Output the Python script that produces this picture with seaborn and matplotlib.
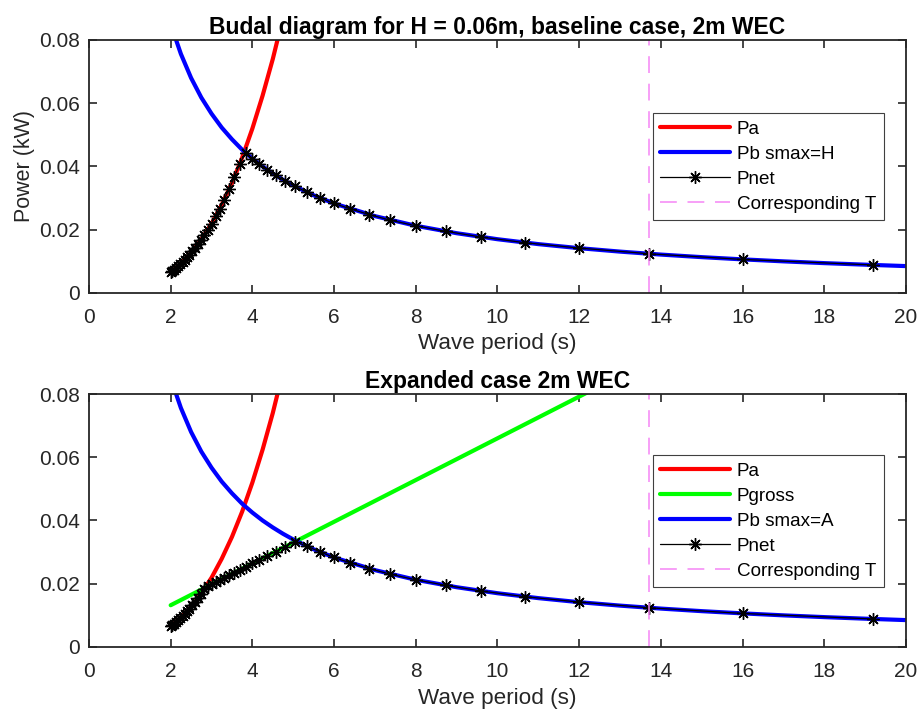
import matplotlib
matplotlib.use("Agg")
import matplotlib.pyplot as plt
import seaborn as sns

# ---------------- data ----------------
# smooth curve grid (wave period, s)
CURVE_T = [2.0, 2.25, 2.5, 2.75, 3.0, 3.25, 3.5, 3.75, 4.0, 4.25, 4.5, 4.75,
           5.0, 5.5, 6.0, 7.0, 8.0, 9.0, 10.0, 11.0, 12.0, 13.0, 14.0, 15.0,
           16.0, 17.0, 18.0, 19.0, 20.0]
# Pa (kW), rising curve (red), leaves the axes above 0.08 near T=4.6
PA_T = [2.0, 2.25, 2.5, 2.75, 3.0, 3.25, 3.5, 3.75, 4.0, 4.25, 4.5, 4.75]
PA = [0.0065, 0.00926, 0.0127, 0.0169, 0.0219, 0.0279, 0.0348, 0.0428,
      0.0520, 0.0624, 0.0740, 0.0871]
# Pb (kW), falling curve (blue)
PB = [0.0850, 0.0756, 0.0680, 0.0618, 0.0567, 0.0523, 0.0486, 0.0453,
      0.0425, 0.0400, 0.0378, 0.0358, 0.0340, 0.0309, 0.0283, 0.0243,
      0.02125, 0.0189, 0.0170, 0.01545, 0.01417, 0.01308, 0.01214, 0.01133,
      0.010625, 0.0100, 0.00944, 0.00895, 0.0085]
# Pgross (kW), straight line (green), bottom panel only
PGROSS_T = [2.0, 12.2]
PGROSS = [0.0132, 0.0805]

# Pnet sample periods (markers)
PNET_T = [2.00, 2.04, 2.09, 2.13, 2.18, 2.23, 2.29, 2.34, 2.40, 2.46, 2.53,
          2.59, 2.67, 2.74, 2.82, 2.91, 3.00, 3.10, 3.20, 3.31, 3.43, 3.56,
          3.69, 3.84, 4.00, 4.17, 4.36, 4.57, 4.80, 5.05, 5.33, 5.65, 6.00,
          6.40, 6.86, 7.38, 8.00, 8.73, 9.60, 10.67, 12.00, 13.71, 16.00, 19.20]
PNET_TOP = [0.0065, 0.0069, 0.00742, 0.00785, 0.00842, 0.00901, 0.00976,
            0.01041, 0.01123, 0.0121, 0.01316, 0.01412, 0.01546, 0.01671,
            0.01822, 0.02002, 0.02194, 0.0242, 0.02662, 0.02946, 0.03279,
            0.03666, 0.04082, 0.0443, 0.0425, 0.0408, 0.0390, 0.0372, 0.0354,
            0.0337, 0.0319, 0.0301, 0.0283, 0.0266, 0.0248, 0.0230, 0.02125,
            0.0195, 0.0177, 0.0159, 0.0142, 0.0124, 0.0106, 0.00885]
PNET_BOT = [0.0065, 0.0069, 0.00742, 0.00785, 0.00842, 0.00901, 0.00976,
            0.01041, 0.01123, 0.0121, 0.01316, 0.01412, 0.01546, 0.01671,
            0.0182, 0.0192, 0.0198, 0.02046, 0.02112, 0.02185, 0.02264,
            0.0235, 0.02435, 0.02534, 0.0264, 0.02752, 0.02878, 0.03016,
            0.03168, 0.0333, 0.0319, 0.0301, 0.0283, 0.0266, 0.0248, 0.0230,
            0.02125, 0.0195, 0.0177, 0.0159, 0.0142, 0.0124, 0.0106, 0.00885]
CORR_T = 13.71

X_TICKS = [0, 2, 4, 6, 8, 10, 12, 14, 16, 18, 20]
Y_TICKS = [0, 0.02, 0.04, 0.06, 0.08]
Y_TICKLABELS = ["0", "0.02", "0.04", "0.06", "0.08"]

TITLE_TOP = "Budal diagram for H = 0.06m, baseline case, 2m WEC"
TITLE_BOT = "Expanded case 2m WEC"
XLABEL = "Wave period (s)"
YLABEL = "Power (kW)"

# ---------------- style ----------------
sns.set_style("ticks")
plt.rcParams["font.family"] = ["Liberation Sans", "DejaVu Sans"]
plt.rcParams["xtick.direction"] = "in"
plt.rcParams["ytick.direction"] = "in"

AX_COLOR = "0.15"
FS_TICK = 15
FS_LABEL = 16.2
FS_YLABEL = 15.5
FS_TITLE = 16.5
FS_LEG = 13.6

fig = plt.figure(figsize=(9.2, 7.13), dpi=100)
ax1 = fig.add_axes([0.0967, 0.5891, 0.8881, 0.3548])
ax2 = fig.add_axes([0.0967, 0.0926, 0.8881, 0.3548])

asterisk = (8, 2, 0)


def draw_common(ax, pnet, with_gross, pb_label):
    sns.lineplot(x=PA_T, y=PA, ax=ax, color="#FF0000", linewidth=3.0,
                 label="Pa", sort=False, estimator=None)
    if with_gross:
        sns.lineplot(x=PGROSS_T, y=PGROSS, ax=ax, color="#00FF00",
                     linewidth=3.0, label="Pgross", sort=False, estimator=None)
    sns.lineplot(x=CURVE_T, y=PB, ax=ax, color="#0000FF", linewidth=3.0,
                 label=pb_label, sort=False, estimator=None)
    sns.lineplot(x=PNET_T, y=pnet, ax=ax, color="black", linewidth=0.9,
                 marker=asterisk, markersize=9, markeredgewidth=1.0,
                 markeredgecolor="black", label="Pnet", sort=False,
                 estimator=None)
    ax.axvline(CORR_T, color="#F585F5", linewidth=1.1, dashes=(11, 7),
               label="Corresponding T")

    ax.set_xlim(0, 20)
    ax.set_ylim(0, 0.08)
    ax.set_xticks(X_TICKS)
    ax.set_yticks(Y_TICKS)
    ax.set_yticklabels(Y_TICKLABELS)
    ax.tick_params(axis="both", which="both", direction="in", top=True,
                   right=True, length=6, width=1.2, colors=AX_COLOR,
                   labelsize=FS_TICK, labelcolor=AX_COLOR)
    ax.tick_params(axis="x", pad=10.5)
    ax.tick_params(axis="y", pad=6.5)
    for sp in ax.spines.values():
        sp.set_visible(True)
        sp.set_color(AX_COLOR)
        sp.set_linewidth(1.3)
    ax.set_xlabel(XLABEL, fontsize=FS_LABEL, color=AX_COLOR, labelpad=5)


draw_common(ax1, PNET_TOP, False, "Pb smax=H")
draw_common(ax2, PNET_BOT, True, "Pb smax=A")

ax1.set_ylabel(YLABEL, fontsize=FS_YLABEL, color=AX_COLOR, labelpad=3)
ax2.set_ylabel("")
ax1.set_title(TITLE_TOP, fontsize=FS_TITLE, fontweight="bold", color="black",
              pad=4)
ax2.set_title(TITLE_BOT, fontsize=FS_TITLE, fontweight="bold", color="black",
              pad=4)

for ax, top in ((ax1, 0.711), (ax2, 0.759)):
    leg = ax.legend(loc="upper left", bbox_to_anchor=(0.690, top),
                    fontsize=FS_LEG, frameon=True, fancybox=False,
                    framealpha=1.0, edgecolor="0.25", handlelength=3.7,
                    handletextpad=0.35, labelspacing=0.41, borderpad=0.4,
                    borderaxespad=0.0)
    leg.get_frame().set_linewidth(0.8)
    for t in leg.get_texts():
        t.set_color("black")

fig.savefig("out.png", dpi=100)
